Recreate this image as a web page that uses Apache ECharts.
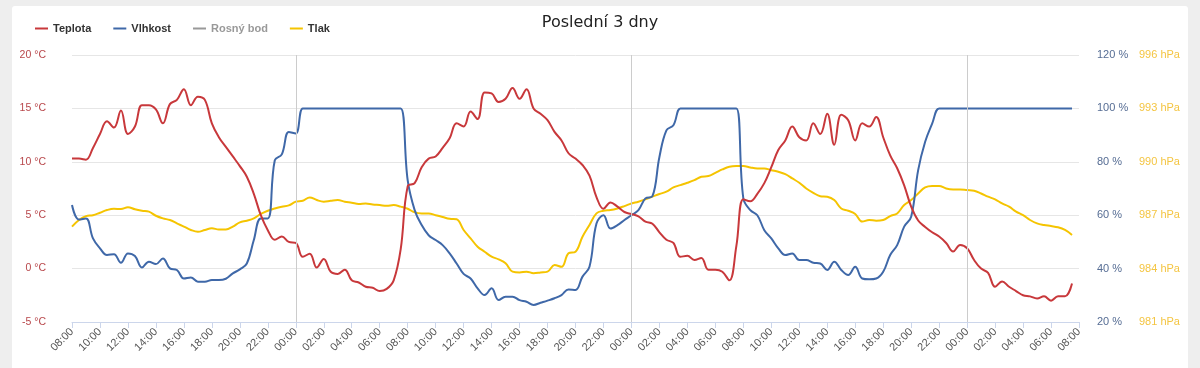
<!DOCTYPE html>
<html>
<head>
<meta charset="utf-8">
<script src="https://cdn.jsdelivr.net/npm/echarts@6/dist/echarts.min.js"></script>
<style>
  html, body { margin: 0; padding: 0; background: #eeeeee; }
  #card { position: absolute; left: 12px; top: 6px; width: 1176px; height: 370px; background: #ffffff; border-radius: 3px; }
  #chart { position: absolute; left: 0; top: 0; width: 1200px; height: 368px; }
</style>
</head>
<body>
<div id="card"></div>
<div id="chart"></div>
<script>
// Time axis: 30-minute steps from 08:00 (day 1) to 08:00 (day 4)
const startHour = 8;
const stepMinutes = 30;
const pointCount = 145;
const midnightIdx = [32, 80, 128];

const teplota = [
  10.3, 10.3, 10.2, 11.3, 12.6, 13.8, 13.2, 14.8, 12.6, 13.3, 15.3, 15.3, 14.9, 13.6, 15.4, 15.8, 16.8, 15.3,
  16.1, 15.8, 13.6, 12.3, 11.4, 10.5, 9.6, 8.6, 7.0, 5.0, 3.6, 2.7, 3.0, 2.5, 2.4, 1.1, 1.4, 0.1,
  0.9, -0.3, -0.5, -0.1, -1.1, -1.3, -1.7, -1.8, -2.1, -1.9, -1.1, 1.8, 7.7, 8.0, 9.5, 10.3, 10.5, 11.3,
  12.2, 13.6, 13.3, 14.7, 14.0, 16.5, 16.4, 15.6, 15.9, 16.9, 15.9, 16.8, 15.0, 14.5, 13.9, 12.8, 12.0, 10.8,
  10.3, 9.7, 8.7, 6.7, 5.6, 6.2, 5.8, 5.3, 5.1, 4.9, 4.4, 4.2, 3.4, 2.7, 2.4, 1.1, 1.2, 0.8,
  1.0, -0.1, -0.1, -0.3, -1.1, 2.1, 6.5, 6.3, 7.0, 8.0, 9.5, 11.1, 12.0, 13.3, 12.3, 12.0, 13.6, 12.6,
  14.5, 11.6, 14.4, 13.9, 12.0, 13.6, 13.3, 14.2, 12.3, 10.6, 9.4, 7.8, 5.8, 4.5, 3.9, 3.4, 3.0, 2.4,
  1.6, 2.2, 1.9, 0.8, 0.0, -0.4, -1.7, -1.2, -1.7, -2.1, -2.5, -2.6, -2.8, -2.6, -3.0, -2.6, -2.6, -1.4,
  null
];

const vlhkost = [
  63.8, 58.4, 58.8, 51.3, 47.6, 45.1, 45.4, 42.2, 45.7, 44.7, 40.4, 42.6, 41.7, 43.8, 40.1, 39.5, 36.3, 36.7,
  35.1, 35.1, 35.7, 35.7, 36.2, 38.2, 39.7, 41.9, 50.7, 58.8, 58.8, 80.6, 82.8, 91.2, 90.6, 100, 100, 100,
  100, 100, 100, 100, 100, 100, 100, 100, 100, 100, 100, 100, 73.1, 61.9, 56.3, 52.5, 50.7, 48.8,
  45.7, 41.9, 38.0, 36.3, 32.6, 30.1, 32.6, 28.2, 29.5, 29.5, 28.2, 27.6, 26.4, 27.2, 28.0, 28.9, 30.1, 32.2,
  32.0, 37.0, 40.7, 56.9, 60.0, 55.0, 56.3, 58.2, 60.0, 61.9, 66.3, 67.1, 81.8, 91.8, 93.7, 100, 100, 100,
  100, 100, 100, 100, 100, 100, 66.3, 61.9, 60.0, 54.4, 51.3, 47.6, 45.1, 45.7, 43.2, 43.2, 42.2, 41.9,
  39.5, 42.6, 39.5, 37.6, 40.7, 36.3, 36.0, 36.3, 38.8, 45.1, 48.8, 55.7, 59.4, 76.9, 87.5, 94.3, 100, 100,
  100, 100, 100, 100, 100, 100, 100, 100, 100, 100, 100, 100, 100, 100, 100, 100, 100, 100,
  null
];

const rosnyBod = [];

const tlak = [
  986.36, 986.73, 986.95, 987.0, 987.14, 987.29, 987.36, 987.35, 987.45, 987.33, 987.25, 987.2, 986.97, 986.82, 986.73, 986.54, 986.36, 986.17,
  986.07, 986.17, 986.26, 986.2, 986.2, 986.36, 986.6, 986.69, 986.82, 987.07, 987.25, 987.38, 987.48, 987.55, 987.76, 987.81, 988.0, 987.85,
  987.76, 987.81, 987.85, 987.76, 987.7, 987.63, 987.66, 987.6, 987.57, 987.53, 987.57, 987.48, 987.36, 987.16, 987.1, 987.1, 987.0, 986.9,
  986.8, 986.77, 986.17, 985.7, 985.23, 984.95, 984.67, 984.52, 984.3, 983.83, 983.78, 983.83, 983.74, 983.78, 983.83, 984.2, 984.1, 984.86,
  984.95, 985.79, 986.45, 987.1, 987.25, 987.29, 987.38, 987.51, 987.66, 987.76, 987.89, 988.04, 988.19, 988.32, 988.56, 988.69, 988.82, 988.97,
  989.16, 989.2, 989.38, 989.57, 989.72, 989.76, 989.76, 989.68, 989.63, 989.63, 989.53, 989.44, 989.31, 989.07, 988.82, 988.5, 988.26, 988.07,
  988.04, 987.85, 987.38, 987.25, 987.07, 986.64, 986.73, 986.69, 986.73, 986.95, 987.1, 987.57, 987.85, 988.22, 988.56, 988.64, 988.64, 988.5,
  988.45, 988.45, 988.41, 988.37, 988.22, 988.04, 987.89, 987.66, 987.48, 987.2, 987.0, 986.73, 986.54, 986.45, 986.39, 986.32, 986.17, 985.89,
  null
];

// category labels HH:MM
const categories = [];
for (let i = 0; i < pointCount; i++) {
  const total = startHour * 60 + i * stepMinutes;
  const h = Math.floor(total / 60) % 24;
  const m = total % 60;
  categories.push(String(h).padStart(2, '0') + ':' + String(m).padStart(2, '0'));
}

const FONT = '"Liberation Sans", Arial, sans-serif';
const C_TEMP = '#c8383b';
const C_HUM = '#3f68a8';
const C_DEW = '#888888';
const C_PRESS = '#f5c400';

const chart = echarts.init(document.getElementById('chart'), null, { renderer: 'canvas' });
chart.setOption({
  backgroundColor: 'transparent',
  animation: false,
  textStyle: { fontFamily: FONT },
  title: {
    text: 'Poslední 3 dny',
    left: 'center',
    top: 10,
    textStyle: { fontFamily: '"DejaVu Sans", sans-serif', fontSize: 16, fontWeight: 'normal', color: '#222' }
  },
  legend: {
    left: 30,
    top: 18,
    icon: 'rect',
    itemWidth: 13,
    itemHeight: 2,
    itemGap: 22,
    inactiveColor: '#999',
    textStyle: { fontFamily: FONT, fontSize: 11, fontWeight: 'bold', color: '#333' },
    data: ['Teplota', 'Vlhkost', 'Rosný bod', 'Tlak'],
    selected: { 'Rosný bod': false }
  },
  grid: { left: 72, right: 121, top: 55, bottom: 46, containLabel: false },
  xAxis: {
    type: 'category',
    data: categories,
    boundaryGap: false,
    axisLine: { onZero: false, lineStyle: { color: '#ccd6eb' } },
    axisTick: { interval: 3, length: 6, lineStyle: { color: '#ccd6eb' } },
    axisLabel: { interval: 3, rotate: 45, color: '#555', fontSize: 11, margin: 8 },
    splitLine: { show: false }
  },
  yAxis: [
    {
      type: 'value', min: -5, max: 20, interval: 5, position: 'left',
      axisLine: { show: false }, axisTick: { show: false },
      axisLabel: { formatter: '{value} °C', color: '#b8474b', fontSize: 10.5, margin: 26 },
      splitLine: { lineStyle: { color: '#e6e6e6' } }
    },
    {
      type: 'value', min: 20, max: 120, interval: 20, position: 'right',
      axisLine: { show: false }, axisTick: { show: false },
      axisLabel: { formatter: '{value} %', color: '#566d94', fontSize: 11, margin: 18 },
      splitLine: { show: false }
    },
    {
      type: 'value', min: 981, max: 996, interval: 3, position: 'right', offset: 42,
      axisLine: { show: false }, axisTick: { show: false },
      axisLabel: { formatter: '{value} hPa', color: '#f4c542', fontSize: 11, margin: 18 },
      splitLine: { show: false }
    }
  ],
  series: [
    {
      name: 'Teplota', type: 'line', yAxisIndex: 0, data: teplota,
      smooth: 0.4, showSymbol: false, color: C_TEMP, lineStyle: { width: 2, color: C_TEMP }, z: 4,
      markLine: {
        silent: true, symbol: 'none', label: { show: false },
        lineStyle: { color: '#cccccc', type: 'solid', width: 1 },
        data: midnightIdx.map(i => ({ xAxis: i }))
      }
    },
    {
      name: 'Vlhkost', type: 'line', yAxisIndex: 1, data: vlhkost,
      smooth: 0.4, showSymbol: false, color: C_HUM, lineStyle: { width: 2, color: C_HUM }, z: 3
    },
    {
      name: 'Rosný bod', type: 'line', yAxisIndex: 0, data: rosnyBod,
      smooth: 0.4, showSymbol: false, color: C_DEW, lineStyle: { width: 2, color: C_DEW }
    },
    {
      name: 'Tlak', type: 'line', yAxisIndex: 2, data: tlak,
      smooth: 0.4, showSymbol: false, color: C_PRESS, lineStyle: { width: 2, color: C_PRESS }, z: 2
    }
  ]
});
</script>
</body>
</html>
